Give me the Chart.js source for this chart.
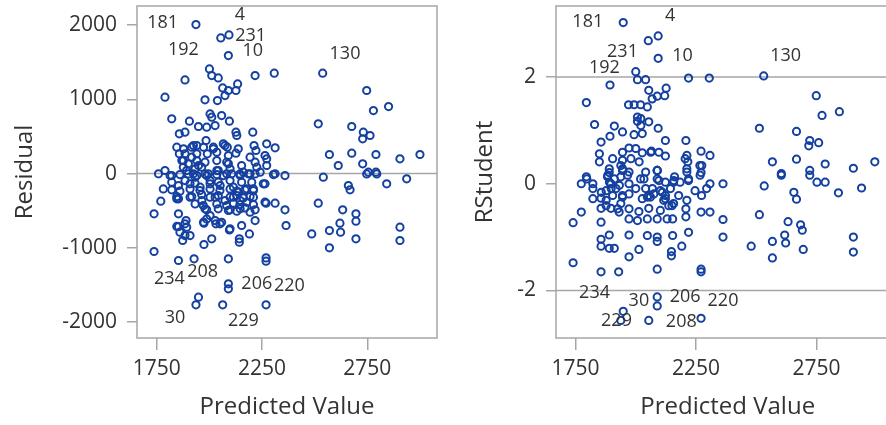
<!DOCTYPE html>
<html>
<head>
<meta charset="utf-8">
<script src="https://cdn.jsdelivr.net/npm/chart.js@4.4.1/dist/chart.umd.min.js"></script>
<style>
  html, body { margin: 0; padding: 0; background: #fff; overflow: hidden; width: 886px; height: 425px; }
  #left { position: absolute; left: 0; top: 0; }
  #right { position: absolute; left: 445px; top: 0; }
</style>
</head>
<body>
<canvas id="left" width="445" height="425"></canvas>
<canvas id="right" width="460" height="425"></canvas>
<script>
// -----------------------
// DATA
// -----------------------

const xTicks = [1750, 2250, 2750];
const residTicks = [-2000, -1000, 0, 1000, 2000];
const rstudTicks = [-2, 0, 2];

// predicted value / residual pairs
const residPoints = [
  [1936,2006],[2054,1826],[2093,1867],[2090,1589],[2000,1409],[2011,1319],[2042,1288],[2134,1207],
  [2063,1153],[2090,1118],[2126,1118],[2074,1050],[2217,1319],[2308,1351],[2538,1351],[2747,1118],
  [2779,848],[2851,902],[1789,1028],[1884,1261],[1979,992],[2038,983],[2003,803],[2011,759],
  [2058,781],[1821,736],[1905,705],[1948,633],[2027,646],[2095,705],[1987,624],[1857,534],
  [1884,557],[2126,557],[2130,512],[2206,557],[2517,669],[2676,633],[2731,557],[2763,512],
  [2728,467],[1845,355],[1857,265],[1916,355],[1940,377],[1984,445],[2019,355],[2066,400],
  [2085,355],[2137,332],[2212,377],[2221,310],[2272,400],[2312,346],[2264,243],[2570,256],
  [2612,108],[2676,274],[2728,130],[2755,18],[2791,256],[2791,18],[2905,198],[3000,256],
  [1884,265],[1916,220],[1940,265],[1990,265],[2035,287],[2090,243],[2126,274],[1876,175],
  [1900,130],[1940,175],[1979,153],[2035,175],[2090,130],[2153,108],[2217,153],[2272,198],
  [1876,86],[1932,63],[1963,86],[2042,41],[2098,63],[2161,18],[2225,86],[2272,108],
  [1758,-4],[1789,41],[1821,-27],[1924,-4],[1987,-27],[2082,-4],[2185,-4],[2312,-4],
  [2359,-27],[2541,-49],[2660,-162],[2668,-220],[2842,-139],[2937,-72],[2747,-5],[2795,-5],
  [1737,-543],[1769,-373],[1853,-341],[1853,-543],[1853,-714],[1860,-790],[1884,-835],[1873,-902],
  [1908,-835],[1884,-678],[1974,-669],[2031,-678],[2050,-678],[2095,-759],[2153,-700],[2190,-813],
  [2142,-880],[2142,-925],[2011,-880],[1974,-956],[2217,-633],[2269,-400],[2312,-400],[2359,-489],
  [2364,-700],[2517,-400],[2486,-813],[2570,-768],[2570,-1001],[2620,-669],[2623,-790],[2633,-489],
  [2696,-543],[2696,-642],[2696,-880],[2905,-723],[2905,-902],[1737,-1050],[1853,-1171],[1927,-1149],
  [2090,-1149],[2269,-1136],[2269,-1180],[2090,-1486],[2090,-1553],[1948,-1665],[1936,-1768],[2063,-1768],
  [2269,-1768],[1813,-27],[1860,-14],[1900,-5],[1940,-27],[1979,-5],[2035,-14],[2145,-5],
  [2217,-5],[2304,-14],[1821,-117],[1884,-95],[1932,-130],[2003,-95],[2042,-117],[2098,-95],
  [2153,-117],[2201,-117],[2264,-139],[1821,-220],[1860,-238],[1908,-207],[1955,-229],[2003,-207],
  [2050,-229],[2098,-207],[2130,-238],[2169,-220],[2209,-207],[1845,-310],[1916,-310],[1963,-283],
  [2003,-319],[2042,-297],[2098,-319],[2130,-297],[2161,-328],[2193,-310],[1932,-409],[1971,-431],
  [2035,-409],[2082,-431],[2114,-400],[2145,-418],[2209,-418],[1987,-489],[2042,-476],[2098,-489],
  [2130,-507],[2169,-463],[2217,-489],[2003,-566],[1889,-633],[2027,-633],[2058,-656],[1987,-611],
  [1781,-207],
  // the dense middle of the cloud
  [1892,40],[1932,-49],[1995,-4],[2035,40],[2066,-27],[2106,-4],[2146,-27],[2193,-4],
  [2241,18],[1853,-161],[1908,-139],[1956,-184],[2003,-139],[2051,-161],[2114,-184],[2138,-251],
  [2177,-206],[2209,-229],[2256,-139],[1845,-341],[1908,-319],[1964,-363],[2027,-319],[2074,-363],
  [2114,-319],[2146,-363],[2177,-386],[2209,-319],[2264,-386],[1924,377],[1972,354],[2019,332],
  [2074,377],[1877,332],[1869,175],[1948,108],[2082,153],[2193,220],[1979,-476],[2090,-498],
  [2146,-476],[2193,-520],[1972,-655],[2098,-745],[1845,-713],[1892,-722]
];

// predicted value / RStudent pairs
const rstudPoints = [
  [1948,3.02],[2052,2.68],[2093,2.77],[2093,2.35],[2000,2.10],[2007,1.95],[2041,1.95],[2219,1.98],
  [2305,1.98],[2531,2.02],[1893,1.85],[1795,1.52],[2054,1.75],[2126,1.79],[2089,1.64],[2120,1.65],
  [2068,1.59],[1970,1.48],[1993,1.48],[2020,1.48],[2048,1.44],[2007,1.25],[2007,1.17],[1829,1.11],
  [1911,1.08],[1945,0.97],[2054,1.16],[2093,1.04],[2123,0.81],[2208,0.81],[1893,0.89],[1856,0.78],
  [1993,0.92],[2027,0.94],[2749,1.65],[2773,1.28],[2845,1.35],[2513,1.04],[2667,0.98],[2722,0.81],
  [2759,0.77],[2718,0.71],[2567,0.41],[2667,0.46],[2604,0.19],[2722,0.25],[2786,0.37],[2903,0.29],
  [2992,0.41],[1849,0.56],[1849,0.41],[1904,0.47],[1945,0.59],[1972,0.67],[2027,0.58],[2065,0.61],
  [2123,0.52],[2212,0.53],[2271,0.61],[2308,0.53],[2216,0.41],[2266,0.34],[1890,0.28],[1938,0.34],
  [1972,0.22],[2041,0.22],[2089,0.25],[2161,0.13],[2212,0.22],[1795,0.13],[1945,0.44],
  [1774,0.00],[1797,0.09],[1822,0.00],[1883,0.13],[1897,0.00],[1938,0.13],[1972,0.00],[2020,0.09],
  [2089,0.09],[2157,0.03],[2219,0.09],[2271,0.21],[2308,0.00],[2362,0.00],[2533,-0.04],[2604,0.16],
  [2722,0.16],[2752,0.03],[2786,0.03],[2841,-0.17],[2937,-0.08],[2656,-0.16],[2667,-0.29],[1740,-0.73],
  [1774,-0.53],[1822,-0.28],[1856,-0.27],[1856,-0.46],[1856,-0.72],[1897,-0.46],[1938,-0.37],[1904,-0.22],
  [1972,-0.19],[1972,-0.66],[2007,-0.69],[2048,-0.66],[2089,-0.66],[2130,-0.66],[2153,-0.66],[2048,-0.25],
  [2075,-0.19],[2116,-0.31],[2157,-0.37],[2212,-0.31],[2208,-0.47],[2208,-0.62],[2271,-0.53],[2308,-0.53],
  [2362,-0.67],[2246,-0.13],[2273,-0.22],[2362,-1.00],[2219,-0.91],[2153,-0.97],[2191,-1.17],[2148,-1.27],
  [2148,-1.35],[2089,-1.00],[2089,-1.08],[2048,-0.97],[1972,-0.96],[2013,-1.23],[1972,-1.37],[1890,-0.96],
  [1856,-1.04],[1856,-1.17],[1890,-1.21],[1911,-1.21],[1740,-1.48],[1856,-1.65],[1929,-1.65],[2089,-1.60],
  [2271,-1.60],[2271,-1.65],[2089,-2.12],[2089,-2.29],[1948,-2.39],[1938,-2.56],[2054,-2.56],[2271,-2.52],
  [2513,-0.58],[2479,-1.17],[2567,-1.08],[2567,-1.39],[2618,-0.96],[2622,-1.11],[2632,-0.71],[2684,-0.77],
  [2691,-0.87],[2695,-1.23],[2903,-1.00],[2903,-1.28],[1877,-0.13],[1918,-0.09],[2000,-0.09],[2027,-0.28],
  [2061,-0.25],[2102,-0.13],[2123,-0.22],[2150,-0.41],[2184,0.03],[1931,-0.53],[1972,-0.47],[2013,-0.52],
  [2054,-0.46],[2102,-0.50],[1877,-0.31],[1945,-0.25],[1890,0.21],[1945,0.25],[2089,0.25],[2123,0.03],
  [2041,-0.09],
  // the dense middle of the cloud
  [1884,0.16],[1891,0.03],[1898,-0.09],[1911,0.09],[1932,-0.03],[1945,0.28],[1945,-0.22],[1966,0.16],
  [1980,0.47],[2000,0.66],[2014,0.41],[2021,1.22],[2021,1.09],[2034,0.09],[2055,-0.22],[2069,-0.09],
  [2089,0.25],[2096,0.06],[2110,-0.16],[2123,-0.28],[2137,-0.41],[2144,-0.09],[2158,0.06],[2178,-0.22],
  [2205,0.47],[2212,0.28],[2219,0.06],[2267,0.16],[2274,0.34],[2294,-0.09],[2062,0.59],[2096,0.59],
  [1857,-0.16],[1822,-0.09],[1877,-0.41],[1925,-0.47]
];

// observation labels: text and the spot (in data units) where it sits
const residLabelText = ['181','4','231','192','10','130','234','208','206','220','30','229'];
const residLabelX    = [1778, 2145, 2196, 1876, 2206, 2644, 1810, 1968, 2225, 2380, 1837, 2161];
const residLabelY    = [2024, 2141, 1858, 1665, 1647, 1611, -1418, -1329, -1486, -1508, -1948, -1979];

const rstudLabelText = ['181','4','231','192','10','130','234','30','206','220','229','208'];
const rstudLabelX    = [1801, 2143, 1945, 1870, 2194, 2622, 1829, 2013, 2205, 2362, 1920, 2189];
const rstudLabelY    = [3.03, 3.15, 2.47, 2.18, 2.40, 2.39, -2.04, -2.20, -2.12, -2.20, -2.56, -2.58];

// -----------------------
// STYLE
// -----------------------

const FONT = '"Open Sans", "Noto Sans", sans-serif';
const GRAY = '#a6a6a6';
const TEXT = '#333333';
const MARKER = '#1440a0';

// frame, reference lines and observation labels
const extras = {
  id: 'extras',
  beforeDatasetsDraw(chart, args, opts) {
    const { ctx, chartArea: a, scales: { y } } = chart;
    ctx.save();
    ctx.strokeStyle = GRAY;
    ctx.lineWidth = 1.5;
    (opts.refLines || []).forEach(v => {
      const py = y.getPixelForValue(v);
      ctx.beginPath();
      ctx.moveTo(a.left, py);
      ctx.lineTo(a.right, py);
      ctx.stroke();
    });
    ctx.strokeRect(a.left, a.top, a.right - a.left, a.bottom - a.top);
    ctx.restore();
  },
  afterDatasetsDraw(chart, args, opts) {
    const { ctx, scales: { x, y } } = chart;
    if (!opts.text) return;
    ctx.save();
    ctx.font = '18px ' + FONT;
    ctx.fillStyle = TEXT;
    ctx.textAlign = 'center';
    ctx.textBaseline = 'middle';
    opts.text.forEach((t, i) => {
      ctx.fillText(t, x.getPixelForValue(opts.xs[i]), y.getPixelForValue(opts.ys[i]));
    });
    ctx.restore();
  }
};

function makeChart(id, points, cfg) {
  return new Chart(document.getElementById(id), {
    type: 'scatter',
    data: {
      datasets: [{
        data: points.map(p => ({ x: p[0], y: p[1] })),
        pointStyle: 'circle',
        pointRadius: 3.6,
        pointBorderWidth: 2,
        borderColor: MARKER,
        backgroundColor: 'rgba(0,0,0,0)',
        pointHoverRadius: 3.6
      }]
    },
    options: {
      responsive: false,
      animation: false,
      events: [],
      layout: { padding: { top: 6, right: cfg.padRight, bottom: 0, left: 0 } },
      plugins: {
        legend: { display: false },
        tooltip: { enabled: false },
        extras: { refLines: cfg.refLines, text: cfg.labelText, xs: cfg.labelX, ys: cfg.labelY }
      },
      scales: {
        x: {
          type: 'linear',
          min: cfg.xMin,
          max: cfg.xMax,
          afterBuildTicks: s => { s.ticks = xTicks.map(v => ({ value: v })); },
          afterFit: s => { s.height = 87; s.paddingLeft = 0; s.paddingRight = 0; },
          border: { display: false },
          grid: { drawOnChartArea: false, drawTicks: true, tickLength: 12, color: GRAY, lineWidth: 1.5 },
          ticks: { font: { family: FONT, size: 21 }, color: TEXT, padding: 6, maxRotation: 0, callback: v => String(v) },
          title: { display: true, text: 'Predicted Value', font: { family: FONT, size: 24 }, color: TEXT, padding: { top: 0, bottom: 3 } }
        },
        y: {
          type: 'linear',
          min: cfg.yMin,
          max: cfg.yMax,
          afterBuildTicks: s => { s.ticks = cfg.yTicks.map(v => ({ value: v })); },
          afterFit: s => { s.width = cfg.yWidth; s.paddingTop = 0; s.paddingBottom = 0; },
          border: { display: false },
          grid: { drawOnChartArea: false, drawTicks: true, tickLength: 10, color: GRAY, lineWidth: 1.5 },
          ticks: { font: { family: FONT, size: 21 }, color: TEXT, padding: 10, callback: v => String(v) },
          title: { display: true, text: cfg.yTitle, font: { family: FONT, size: 24 }, color: TEXT, padding: { top: cfg.yTitlePad, bottom: 0 } }
        }
      }
    },
    plugins: [extras]
  });
}

makeChart('left', residPoints, {
  xMin: 1656, xMax: 3081, yMin: -2215, yMax: 2256, yTicks: residTicks,
  yWidth: 137, padRight: 8, yTitle: 'Residual', yTitlePad: 11, refLines: [0],
  labelText: residLabelText, labelX: residLabelX, labelY: residLabelY
});

makeChart('right', rstudPoints, {
  xMin: 1669, xMax: 3094, yMin: -2.89, yMax: 3.33, yTicks: rstudTicks,
  yWidth: 111, padRight: 2, yTitle: 'RStudent', yTitlePad: 26, refLines: [-2, 2],
  labelText: rstudLabelText, labelX: rstudLabelX, labelY: rstudLabelY
});
</script>
</body>
</html>
